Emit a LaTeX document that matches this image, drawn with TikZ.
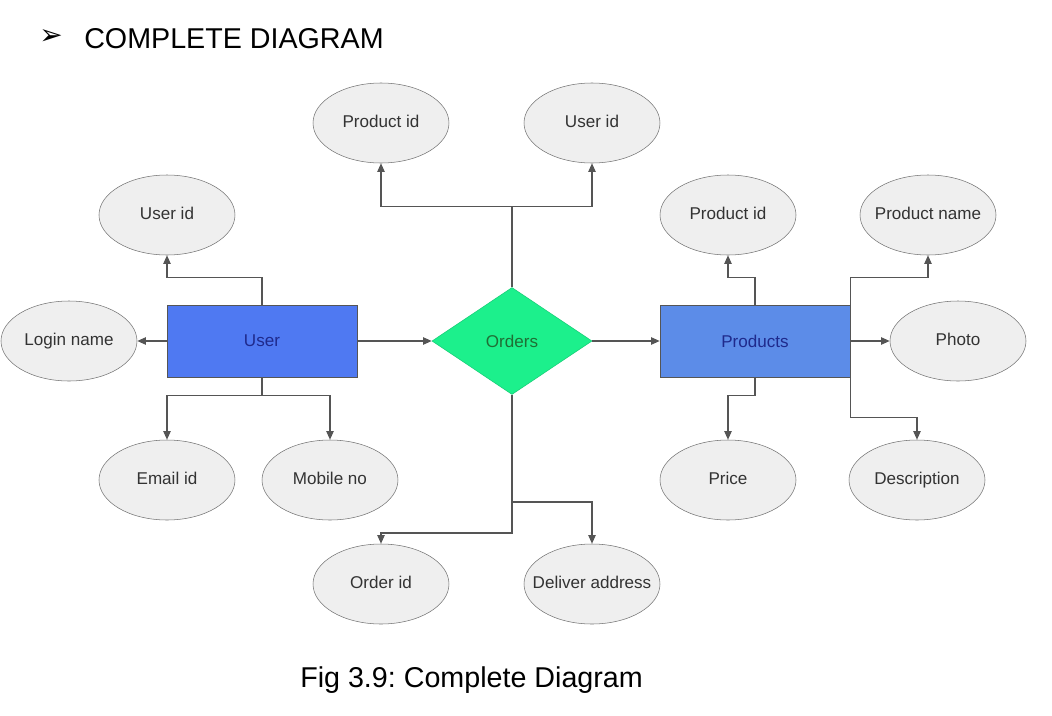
\documentclass[tikz,border=0pt]{standalone}
\usepackage{fontspec}
\setmainfont{Liberation Sans}
\newfontfamily\dingfont{DejaVu Sans}
\frenchspacing
\usetikzlibrary{shapes.geometric, arrows.meta}
\definecolor{userblue}{HTML}{4F79F2}
\definecolor{prodblue}{HTML}{5C8CE8}
\definecolor{relgreen}{HTML}{1CF08C}
\definecolor{linegray}{HTML}{555555}
\definecolor{ovalgray}{HTML}{EFEFEF}
\definecolor{navytext}{HTML}{1F2A8C}
\definecolor{greentext}{HTML}{1F6F35}
\tikzstyle{attr} = [ellipse, minimum width=102pt, minimum height=60pt, inner xsep=-10pt, inner ysep=0pt, text height=9.5pt, text depth=3pt, text centered, draw=black!55, fill=ovalgray, text=black!80, font=\fontsize{12.8}{14}\selectfont]
\tikzstyle{entity} = [rectangle, minimum width=142.5pt, minimum height=54pt, text centered, draw=linegray, fill=userblue, text=navytext, font=\fontsize{12.8}{14}\selectfont]
\tikzstyle{relation} = [diamond, minimum width=120pt, minimum height=80.25pt, inner sep=0pt, text centered, draw=relgreen!85!black, fill=relgreen, text=greentext, font=\fontsize{12.8}{14}\selectfont]
\tikzstyle{heading} = [anchor=base west, inner sep=0pt, font=\fontsize{21.5}{24}\selectfont]
\tikzstyle{arrow} = [line width=1.1pt, draw=linegray, ->, >={Triangle[length=6.5pt,width=5.5pt]}]

\begin{document}
\begin{tikzpicture}[node distance=96pt]
\useasboundingbox (-384pt,-280.5pt) rectangle (405pt,255.75pt);

\node (orders) [relation] {Orders};
\node (user) [entity, left of=orders, xshift=-91.5pt] {User};
\node (products) [entity, right of=orders, xshift=86.25pt, fill=prodblue] {Products};

% user attributes
\node (login) [attr, left of=user, xshift=-48.75pt] {Login name};
\node (uidU) [attr, above of=user, xshift=-71.25pt, yshift=-1.5pt] {User id};
\node (email) [attr, below of=user, xshift=-71.25pt, yshift=-8.25pt] {Email id};
\node (mobile) [attr, below of=user, xshift=51pt, yshift=-8.25pt] {Mobile no};

% orders attributes
\node (pidO) [attr, above of=orders, xshift=-98.25pt, yshift=67.5pt] {Product id};
\node (uidO) [attr, right of=pidO, xshift=62.25pt] {User id};
\node (orderid) [attr, below of=orders, xshift=-98.25pt, yshift=-86.25pt] {Order id};
\node (deliver) [attr, right of=orderid, xshift=62.25pt] {Deliver address};

% products attributes
\node (pidP) [attr, above of=products, xshift=-20.25pt, yshift=-1.5pt] {Product id};
\node (pname) [attr, right of=pidP, xshift=54pt] {Product name};
\node (photo) [attr, right of=products, xshift=56.25pt] {Photo};
\node (price) [attr, below of=products, xshift=-20.25pt, yshift=-8.25pt] {Price};
\node (desc) [attr, right of=price, xshift=45.75pt] {Description};

% heading and caption
\node (bullet) at (-345.75pt,228pt) {\dingfont\fontsize{21}{21}\selectfont ➢};
\node (title) [heading] at (-321pt,219.75pt) {COMPLETE DIAGRAM};
\node (caption) [heading] at (-159pt,-259.5pt) {Fig 3.9: Complete Diagram};

\draw [arrow] (user.east) -- (orders.west);
\draw [arrow] (orders.east) -- (products.west);

\draw [arrow] (user.west) -- (login.east);
\draw [arrow] (user.north) -- ++(0,20.25pt) -| (uidU.south);
\draw [arrow] (user.south) -- ++(0,-13.5pt) -| (email.north);
\draw [arrow] (user.south) -- ++(0,-13.5pt) -| (mobile.north);

\draw [arrow] (orders.north) -- ++(0,60.75pt) -| (pidO.south);
\draw [arrow] (orders.north) -- ++(0,60.75pt) -| (uidO.south);
\draw [arrow] (orders.south) -- ++(0,-103.5pt) -| (orderid.north);
\draw [arrow] (orders.south) -- ++(0,-80.25pt) -| (deliver.north);

\draw [arrow] (products.north) -- ++(0,20.25pt) -| (pidP.south);
\draw [arrow] (products.north east) -- ++(0,20.25pt) -| (pname.south);
\draw [arrow] (products.east) -- (photo.west);
\draw [arrow] (products.south) -- ++(0,-13.5pt) -| (price.north);
\draw [arrow] (products.south east) -- ++(0,-30pt) -| (desc.north);

\end{tikzpicture}
\end{document}
